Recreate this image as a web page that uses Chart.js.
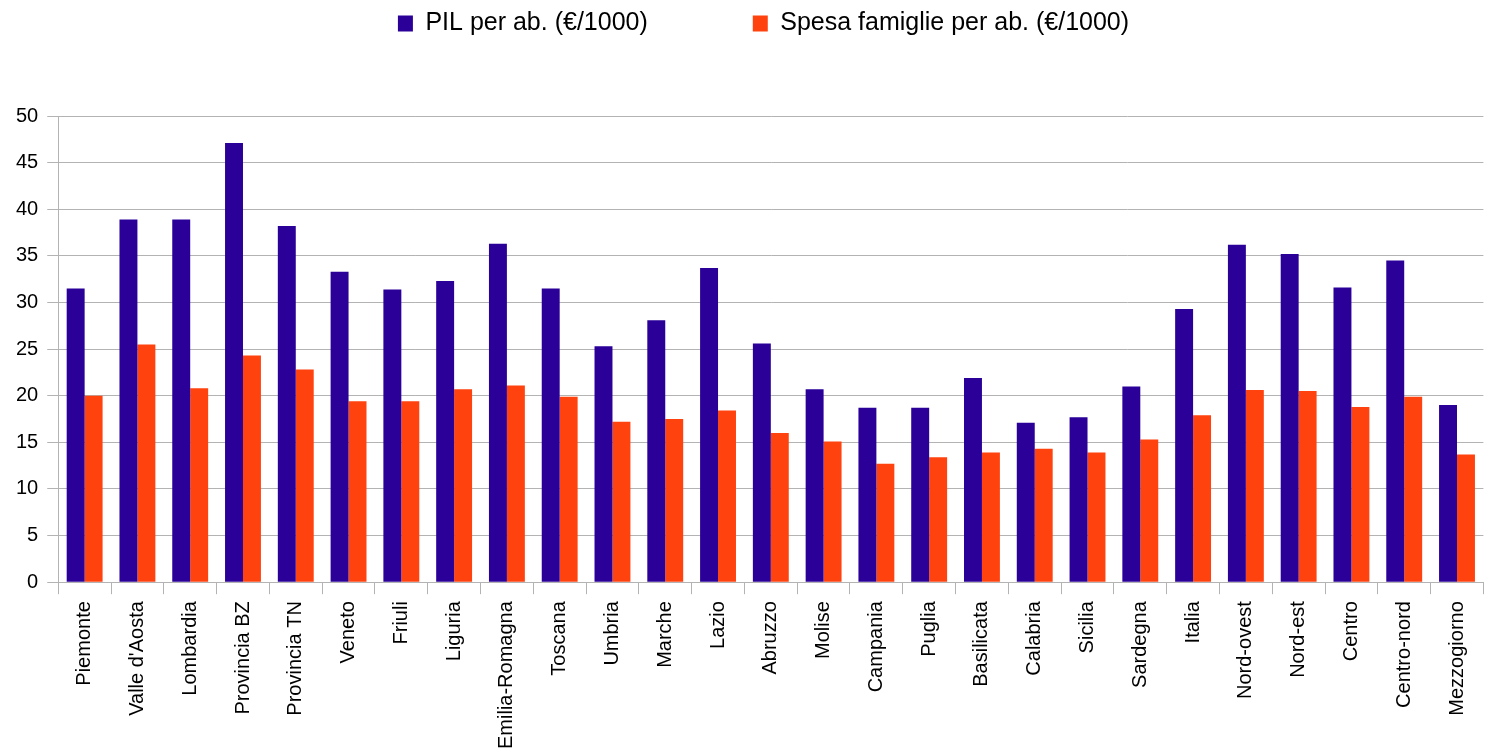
<!DOCTYPE html>
<html>
<head>
<meta charset="utf-8">
<script src="https://cdn.jsdelivr.net/npm/chart.js@4.4.1/dist/chart.umd.min.js"></script>
<style>
  html, body { margin: 0; padding: 0; background: #ffffff; }
  #wrap { width: 1488px; height: 752px; position: relative; }
</style>
</head>
<body>
<div id="wrap"><canvas id="c" width="1488" height="752"></canvas></div>
<script>
const categories = ["Piemonte", "Valle d'Aosta", "Lombardia", "Provincia BZ", "Provincia TN", "Veneto", "Friuli", "Liguria", "Emilia-Romagna", "Toscana", "Umbria", "Marche", "Lazio", "Abruzzo", "Molise", "Campania", "Puglia", "Basilicata", "Calabria", "Sicilia", "Sardegna", "Italia", "Nord-ovest", "Nord-est", "Centro", "Centro-nord", "Mezzogiorno"];
const pilPerAb = [31.5, 38.9, 38.9, 47.1, 38.2, 33.3, 31.4, 32.3, 36.3, 31.5, 25.3, 28.1, 33.7, 25.6, 20.7, 18.7, 18.7, 21.9, 17.1, 17.7, 21.0, 29.3, 36.2, 35.2, 31.6, 34.5, 19.0];
const spesaFamiglie = [20.0, 25.5, 20.8, 24.3, 22.8, 19.4, 19.4, 20.7, 21.1, 19.9, 17.2, 17.5, 18.4, 16.0, 15.1, 12.7, 13.4, 13.9, 14.3, 13.9, 15.3, 17.9, 20.6, 20.5, 18.8, 19.9, 13.7];
const seriesNames = ["PIL per ab. (€/1000)", "Spesa famiglie per ab. (€/1000)"];
const yTicks = { min: 0, max: 50, step: 5 };

const FONT = "'Liberation Sans', Arial, sans-serif";
const GRID = '#b3b3b3';
const LEGEND_PAD = 105;

const legendShift = {
  id: 'legendShift',
  afterLayout(chart) {
    const lg = chart.legend;
    if (!lg) return;
    lg.top = 11 - LEGEND_PAD;
    lg.left += 15;
    lg.right += 15;
  }
};

new Chart(document.getElementById('c'), {
  type: 'bar',
  data: {
    labels: categories,
    datasets: [
      { label: seriesNames[0], data: pilPerAb, backgroundColor: '#2a0099', borderWidth: 0 },
      { label: seriesNames[1], data: spesaFamiglie, backgroundColor: '#ff420e', borderWidth: 0 }
    ]
  },
  options: {
    responsive: false,
    animation: false,
    devicePixelRatio: 1,
    layout: { padding: { left: 7, right: -2, top: 0, bottom: -4 } },
    datasets: { bar: { categoryPercentage: 0.68, barPercentage: 1.0 } },
    plugins: {
      tooltip: { enabled: false },
      legend: {
        position: 'top',
        maxHeight: 116,
        labels: {
          boxWidth: 15,
          boxHeight: 16,
          padding: LEGEND_PAD,
          color: '#000000',
          font: { family: FONT, size: 25 }
        }
      }
    },
    scales: {
      x: {
        offset: true,
        grid: { display: true, drawOnChartArea: false, offset: true, color: GRID, tickLength: 12, lineWidth: 1 },
        border: { display: true, color: GRID, width: 1 },
        ticks: {
          autoSkip: false,
          maxRotation: 90,
          minRotation: 90,
          padding: 7,
          color: '#000000',
          font: { family: FONT, size: 20 }
        }
      },
      y: {
        min: yTicks.min,
        max: yTicks.max,
        grid: { color: GRID, tickLength: 11, lineWidth: 1 },
        border: { display: true, color: GRID, width: 1 },
        ticks: {
          stepSize: yTicks.step,
          padding: 9,
          color: '#000000',
          font: { family: FONT, size: 20 }
        }
      }
    }
  },
  plugins: [legendShift]
});
</script>
</body>
</html>
